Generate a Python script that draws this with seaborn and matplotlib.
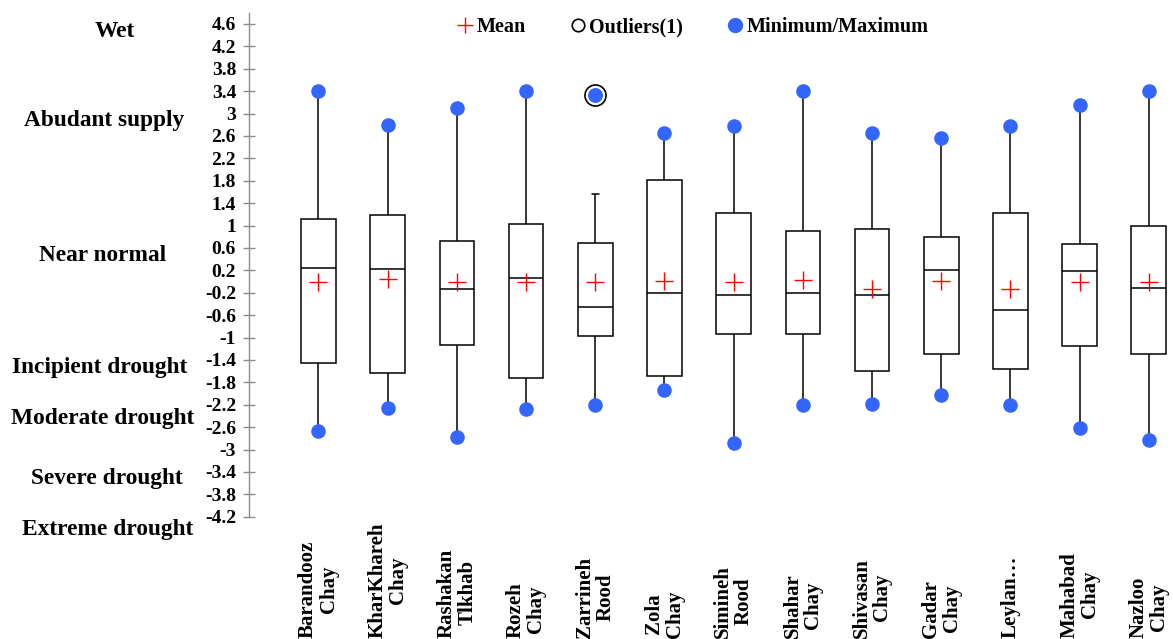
import numpy as np
import pandas as pd
import matplotlib
matplotlib.use("Agg")
import matplotlib.pyplot as plt
from matplotlib.lines import Line2D
import matplotlib.transforms as mtransforms
import seaborn as sns

# ---------------- data ----------------
stations = ["Barandooz\nChay", "KharKhareh\nChay", "Rashakan\nTlkhab", "Rozeh\nChay",
            "Zarrineh\nRood", "Zola\nChay", "Simineh\nRood", "Shahar\nChay",
            "Shivasan\nChay", "Gadar\nChay", "Leylan…", "Mahabad\nChay", "Nazloo\nChay"]
minimum = [-2.67, -2.25, -2.77, -2.28, -2.20, -1.94, -2.89, -2.21, -2.19, -2.02, -2.20, -2.62, -2.83]
q1 = [-1.46, -1.63, -1.14, -1.73, -0.98, -1.68, -0.94, -0.94, -1.60, -1.29, -1.56, -1.16, -1.29]
median = [0.25, 0.23, -0.13, 0.06, -0.46, -0.20, -0.24, -0.20, -0.24, 0.21, -0.51, 0.18, -0.11]
q3 = [1.12, 1.19, 0.73, 1.03, 0.68, 1.81, 1.23, 0.90, 0.93, 0.80, 1.23, 0.67, 0.99]
upper_whisker = [3.41, 2.79, 3.10, 3.40, 1.56, 2.65, 2.77, 3.40, 2.66, 2.56, 2.77, 3.16, 3.40]
maximum = [3.41, 2.79, 3.10, 3.40, 3.34, 2.65, 2.77, 3.40, 2.66, 2.56, 2.77, 3.16, 3.40]
means = [0.00, 0.04, 0.00, 0.00, -0.01, 0.01, 0.00, 0.02, -0.13, 0.01, -0.14, 0.00, -0.01]
outlier_station = ["Zarrineh\nRood"]
outlier_value = [3.34]

y_ticks = [-4.2, -3.8, -3.4, -3.0, -2.6, -2.2, -1.8, -1.4, -1.0, -0.6, -0.2,
           0.2, 0.6, 1.0, 1.4, 1.8, 2.2, 2.6, 3.0, 3.4, 3.8, 4.2, 4.6]
y_tick_labels = ["-4.2", "-3.8", "-3.4", "-3", "-2.6", "-2.2", "-1.8", "-1.4", "-1", "-0.6", "-0.2",
                 "0.2", "0.6", "1", "1.4", "1.8", "2.2", "2.6", "3", "3.4", "3.8", "4.2", "4.6"]

class_labels = ["Wet", "Abudant supply", "Near normal", "Incipient drought",
                "Moderate drought", "Severe drought", "Extreme drought"]
class_label_y = [4.46, 2.88, 0.47, -1.54, -2.44, -3.51, -4.42]
class_label_xpx = [115, 104, 103, 100, 103, 107, 108]

# ---------------- style ----------------
sns.set_style("white")
plt.rcParams["font.family"] = ["Liberation Serif", "DejaVu Serif"]
plt.rcParams["font.weight"] = "bold"
plt.rcParams["text.color"] = "black"
plt.rcParams["xtick.color"] = "black"
plt.rcParams["ytick.color"] = "black"

BLUE = "#3366FF"

fig = plt.figure(figsize=(11.73, 6.39), dpi=100)
W, H = 1173, 639
ax_left = 249.3 / W
ax_bottom = 1 - 516.7 / H
ax_top = 1 - 12.8 / H
ax = fig.add_axes([ax_left, ax_bottom, 1.0 - ax_left, ax_top - ax_bottom])

# long-form five-number data so the boxes come from seaborn's own stats
rows = []
for i, s in enumerate(stations):
    for v in (minimum[i], q1[i], median[i], q3[i], upper_whisker[i]):
        rows.append({"station": s, "value": v})
df = pd.DataFrame(rows)

sns.boxplot(data=df, x="station", y="value", order=stations, ax=ax,
            whis=(0, 100), width=0.5, color="white", linecolor="black",
            linewidth=1.1, showfliers=False, saturation=1, capwidths=0.1)

pos = np.arange(len(stations))
idx = {s: i for i, s in enumerate(stations)}

# min / max dots
sns.scatterplot(x=pos, y=maximum, ax=ax, color=BLUE, s=110, linewidth=0, zorder=6, legend=False)
sns.scatterplot(x=pos, y=minimum, ax=ax, color=BLUE, s=110, linewidth=0, zorder=6, legend=False)
# outlier ring
sns.scatterplot(x=[idx[s] for s in outlier_station], y=outlier_value, ax=ax, s=230,
                facecolor="white", edgecolor="black", linewidth=1.2, zorder=5, legend=False)
sns.scatterplot(x=[idx[s] for s in outlier_station], y=outlier_value, ax=ax, s=110,
                color=BLUE, linewidth=0, zorder=7, legend=False)
# means
sns.scatterplot(x=pos, y=means, ax=ax, marker="+", s=180, color="red", linewidth=1.0,
                zorder=8, legend=False)

ax.set_xlim(-1.0, 12.35)
ax.set_ylim(-4.2, 4.8)
ax.set_xlabel("")
ax.set_ylabel("")

# y axis
ax.set_yticks(y_ticks)
ax.set_yticklabels(y_tick_labels, fontsize=14, fontweight="bold", color="black")
ax.tick_params(axis="y", direction="inout", length=9, width=1, color="#8c8c8c",
               labelcolor="black", pad=5, left=True)
for side in ["top", "right", "bottom"]:
    ax.spines[side].set_visible(False)
ax.spines["left"].set_color("#8c8c8c")
ax.spines["left"].set_linewidth(1.0)

# x labels, bottom-anchored, rotated
ax.set_xticks(pos)
ax.set_xticklabels(stations, rotation=90, fontsize=15, fontweight="bold", color="black",
                   va="bottom", ha="center", multialignment="center", linespacing=1.05)
ax.tick_params(axis="x", length=0, pad=87, bottom=False, labelcolor="black")

# class labels on the left
trans = mtransforms.blended_transform_factory(fig.transFigure, ax.transData)
for lab, xp, yv in zip(class_labels, class_label_xpx, class_label_y):
    fig.text(xp / W, yv, lab, transform=trans, ha="center", va="center",
             fontsize=16.8, fontweight="bold", color="black")

# legend
handles = [
    Line2D([], [], marker="+", color="red", linestyle="none", markersize=12, markeredgewidth=1.0),
    Line2D([], [], marker="o", markerfacecolor="white", markeredgecolor="black",
           linestyle="none", markersize=9, markeredgewidth=1.2),
    Line2D([], [], marker="o", color=BLUE, linestyle="none", markersize=10),
]
leg = fig.legend(handles, ["Mean", "Outliers(1)", "Minimum/Maximum"], ncol=3, frameon=False,
                 loc="center", bbox_to_anchor=(693 / W, 1 - 27 / H), bbox_transform=fig.transFigure,
                 handlelength=0.8, handletextpad=0.15, columnspacing=2.2,
                 prop={"family": "Liberation Serif", "weight": "bold", "size": 14.5})
for t in leg.get_texts():
    t.set_color("black")

fig.savefig("out.png", dpi=100)
